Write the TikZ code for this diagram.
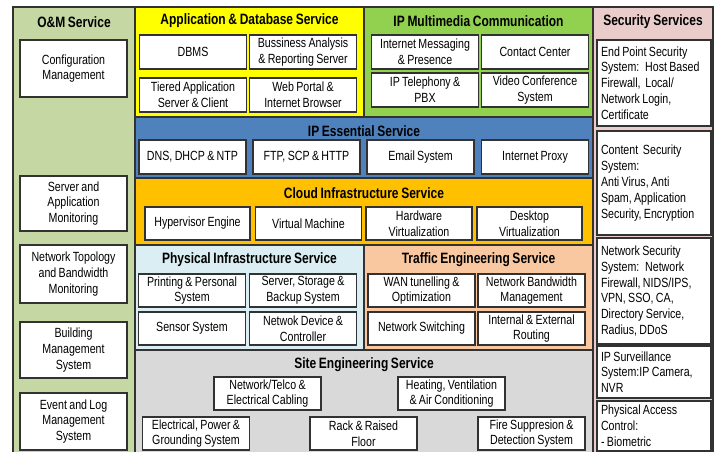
\documentclass[tikz,border=0pt]{standalone}
\usepackage{fontspec}
\setmainfont{Liberation Sans}[FakeStretch=0.8,WordSpace=0.8]
\definecolor{omgreen}{RGB}{197,216,164}
\definecolor{appyellow}{RGB}{255,255,0}
\definecolor{mmgreen}{RGB}{146,208,80}
\definecolor{essblue}{RGB}{79,129,189}
\definecolor{cloudorange}{RGB}{255,192,0}
\definecolor{physblue}{RGB}{218,238,243}
\definecolor{trafpeach}{RGB}{250,200,160}
\definecolor{sitegray}{RGB}{217,217,217}
\definecolor{secpink}{RGB}{234,205,203}
\definecolor{edge}{RGB}{50,50,50}
\newcommand{\boxfont}{\fontsize{13.3}{15.8}\selectfont}
\newcommand{\titlefont}{\fontsize{15}{18}\selectfont\bfseries}
\begin{document}
\begin{tikzpicture}[x=1pt,y=-1pt,
    band/.style={draw=edge, line width=1.3pt},
    box/.style={draw=edge, line width=1.2pt, fill=white, inner sep=0pt,
      minimum width=107pt, minimum height=34pt, align=center, font=\boxfont},
    secbox/.style={box, minimum width=114pt, text width=106pt, align=flush left},
    title/.style={font=\titlefont, inner sep=0pt}]
  \useasboundingbox (0,0) rectangle (717,452);
  \clip (0,0) rectangle (717,452);
  % columns and bands
  \draw[band, fill=omgreen] (13,460) -- (13,7) -- (135,7) -- (135,460);
  \draw[band, fill=secpink] (593,460) -- (593,7) -- (713,7) -- (713,460);
  \draw[band, fill=appyellow] (135,7) rectangle (364,117);
  \draw[band, fill=mmgreen] (364,7) rectangle (593,117);
  \draw[band, fill=essblue] (135,117) rectangle (593,178);
  \draw[band, fill=cloudorange] (135,178) rectangle (593,245);
  \draw[band, fill=physblue] (135,245) rectangle (364,350);
  \draw[band, fill=trafpeach] (364,245) rectangle (593,350);
  \draw[band, fill=sitegray] (135,460) -- (135,350) -- (593,350) -- (593,460);

  % O&M Service
  \node[title] (omtitle) at (74,22) {O\&M Service};
  \node[box, minimum height=57pt] (config) at (73.5,68.5) {Configuration\\Management};
  \node[box, minimum height=55pt] (srvmon) at (73.5,203.5) {Server and\\Application\\Monitoring};
  \node[box, minimum height=58pt] (nettopo) at (73.5,274) {Network Topology\\and Bandwidth\\Monitoring};
  \node[box, minimum height=56pt] (bms) at (73.5,350) {Building\\Management\\System};
  \node[box, minimum height=57pt] (eventlog) at (73.5,421.5) {Event and Log\\Management\\System};

  % Application & Database Service
  \node[title] (apptitle) at (249.5,21) {Application \& Database Service};
  \node[box] (dbms) at (193,52) {DBMS};
  \node[box] (bizrep) at (303,52) {Bussiness Analysis\\\& Reporting Server};
  \node[box] (tiered) at (193,95) {Tiered Application\\Server \& Client};
  \node[box] (webportal) at (303,95) {Web Portal \&\\Internet Browser};

  % IP Multimedia Communication
  \node[title] (mmtitle) at (478.5,21) {IP Multimedia Communication};
  \node[box] (imsg) at (425,52) {Internet Messaging\\\& Presence};
  \node[box] (contact) at (535,52) {Contact Center};
  \node[box] (ipphone) at (425,90) {IP Telephony \&\\PBX};
  \node[box] (video) at (535,90) {Video Conference\\System};

  % IP Essential Service
  \node[title] (esstitle) at (364,131) {IP Essential Service};
  \node[box] (dns) at (192.5,157) {DNS, DHCP \& NTP};
  \node[box] (ftp) at (306.5,157) {FTP, SCP \& HTTP};
  \node[box] (email) at (420.5,157) {Email System};
  \node[box] (proxy) at (535,157) {Internet Proxy};

  % Cloud Infrastructure Service
  \node[title] (cloudtitle) at (364,193) {Cloud Infrastructure Service};
  \node[box, minimum width=105pt, minimum height=33pt] (hyper) at (197.5,223.5) {Hypervisor Engine};
  \node[box, minimum width=106pt, minimum height=33pt] (vm) at (308.5,223.5) {Virtual Machine};
  \node[box, minimum width=106pt, minimum height=33pt] (hwvirt) at (419,223.5) {Hardware\\Virtualization};
  \node[box, minimum width=105pt, minimum height=33pt] (desktop) at (529.5,223.5) {Desktop\\Virtualization};

  % Physical Infrastructure Service
  \node[title] (phystitle) at (249.5,260) {Physical Infrastructure Service};
  \node[box, minimum height=33pt] (printing) at (192,290.5) {Printing \& Personal\\System};
  \node[box, minimum height=33pt] (storage) at (303,290.5) {Server, Storage \&\\Backup System};
  \node[box, minimum height=33pt] (sensor) at (192,328.5) {Sensor System};
  \node[box, minimum height=33pt] (netdev) at (303,328.5) {Netwok Device \&\\Controller};

  % Traffic Engineering Service
  \node[title] (traftitle) at (478.5,260) {Traffic Engineering Service};
  \node[box, minimum height=33pt] (wan) at (421.5,290.5) {WAN tunelling \&\\Optimization};
  \node[box, minimum height=33pt] (bandwidth) at (531.5,290.5) {Network Bandwidth\\Management};
  \node[box, minimum height=33pt] (switching) at (421.5,328.5) {Network Switching};
  \node[box, minimum height=33pt] (routing) at (531.5,328.5) {Internal \& External\\Routing};

  % Site Engineering Service
  \node[title] (sitetitle) at (364,365) {Site Engineering Service};
  \node[box, minimum height=33pt] (cabling) at (267.5,393.5) {Network/Telco \&\\Electrical Cabling};
  \node[box, minimum height=33pt] (hvac) at (451.5,393.5) {Heating, Ventilation\\\& Air Conditioning};
  \node[box, minimum height=33pt] (power) at (196,433.5) {Electrical, Power \&\\Grounding System};
  \node[box, minimum height=33pt] (rack) at (363.5,433.5) {Rack \& Raised\\Floor};
  \node[box, minimum height=33pt] (fire) at (531.5,433.5) {Fire Suppresion \&\\Detection System};

  % Security Services
  \node[title] (sectitle) at (653,22) {Security Services};
  \node[secbox, minimum height=86pt] (endpoint) at (654,83) {End Point Security\\System:~ Host Based\\Firewall,~ Local/\\Network Login,\\Certificate};
  \node[secbox, minimum height=104pt] (content) at (654,183) {Content~ Security\\System:\\Anti Virus, Anti\\Spam, Application\\Security, Encryption};
  \node[secbox, minimum height=106pt] (netsec) at (654,291) {Network Security\\System:~ Network\\Firewall, NIDS/IPS,\\VPN, SSO, CA,\\Directory Service,\\Radius, DDoS};
  \node[secbox, minimum height=52pt] (surveil) at (654,372) {IP Surveillance\\System:IP Camera,\\NVR};
  \node[secbox, minimum height=50pt] (access) at (654,426) {Physical Access\\Control:\\- Biometric};
\end{tikzpicture}
\end{document}
